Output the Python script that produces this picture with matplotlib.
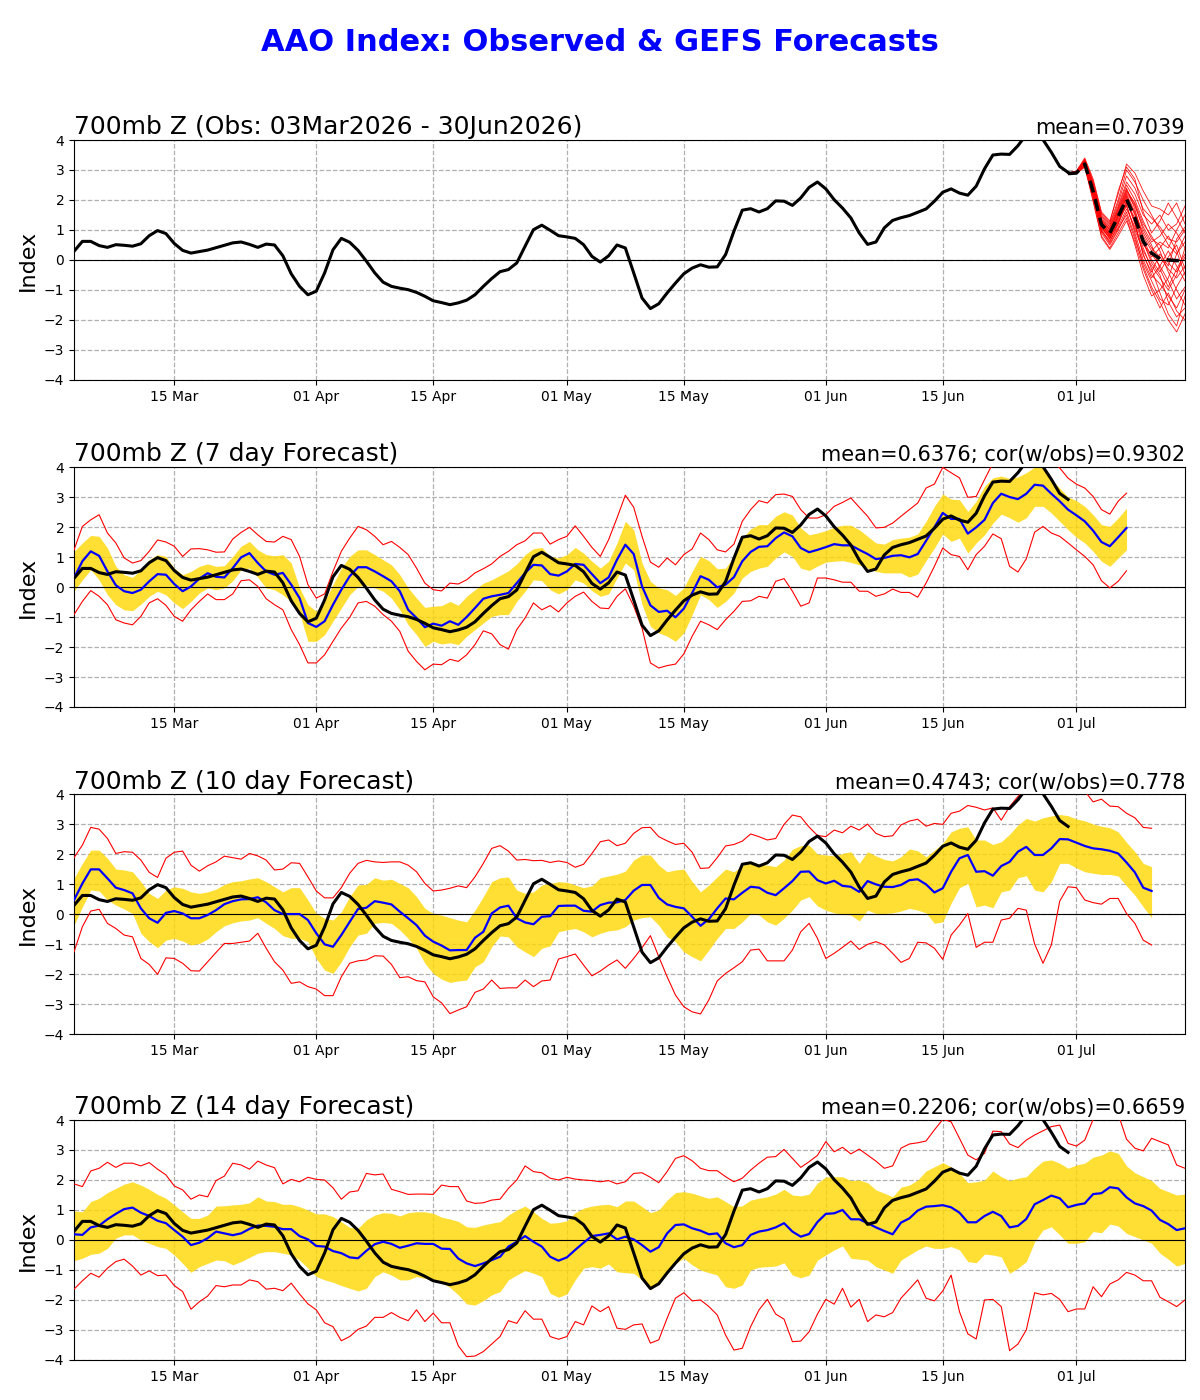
import numpy as np
import pandas as pd
import matplotlib
matplotlib.use("Agg")
import matplotlib.pyplot as plt
import matplotlib.dates as mdates

# observed AAO index, daily from 03 Mar 2026 to 30 Jun 2026
obs_start = "2026-03-03"
obs = [
    0.29, 0.62, 0.62, 0.48, 0.42, 0.51, 0.49, 0.46, 0.54, 0.81,
    0.98, 0.88, 0.55, 0.32, 0.23, 0.28, 0.33, 0.41, 0.49, 0.57,
    0.60, 0.52, 0.42, 0.53, 0.50, 0.14, -0.46, -0.88, -1.16, -1.04,
    -0.43, 0.34, 0.72, 0.59, 0.32, -0.04, -0.43, -0.74, -0.88, -0.94,
    -0.99, -1.08, -1.21, -1.36, -1.42, -1.49, -1.43, -1.34, -1.16, -0.88,
    -0.62, -0.39, -0.32, -0.10, 0.46, 1.01, 1.16, 0.99, 0.81, 0.77,
    0.72, 0.51, 0.12, -0.07, 0.14, 0.50, 0.40, -0.43, -1.27, -1.62,
    -1.46, -1.10, -0.77, -0.46, -0.27, -0.16, -0.24, -0.23, 0.18, 0.96,
    1.66, 1.71, 1.60, 1.71, 1.97, 1.96, 1.82, 2.07, 2.42, 2.60,
    2.37, 2.01, 1.73, 1.40, 0.90, 0.52, 0.60, 1.07, 1.32, 1.41,
    1.48, 1.59, 1.70, 1.96, 2.26, 2.37, 2.23, 2.16, 2.46, 3.04,
    3.50, 3.53, 3.52, 3.81, 4.18, 4.30, 4.01, 3.59, 3.12, 2.92,
]

# GEFS ensemble from 30 Jun 2026 to 14 Jul 2026
ens_start = "2026-06-30"
ens_mean = [2.88, 2.90, 3.20, 2.29, 1.18, 0.90, 1.45, 2.03, 1.40, 0.62,
            0.23, 0.04, 0.00, -0.02, -0.02]
ens_members = [
    [2.90, 2.95, 3.30, 2.40, 1.20, 0.80, 1.50, 2.20, 1.60, 0.90, 0.40, 0.10, -0.30, -0.60, -0.20],
    [2.88, 2.90, 3.20, 2.20, 1.00, 0.60, 1.20, 2.00, 1.20, 0.20, -0.50, -0.80, -1.20, -1.60, -1.00],
    [2.90, 2.92, 3.25, 2.50, 1.40, 1.10, 1.80, 2.60, 2.20, 1.50, 1.20, 1.50, 1.00, 1.20, 1.80],
    [2.87, 2.88, 3.10, 2.10, 0.90, 0.50, 1.00, 1.60, 0.80, -0.20, -0.90, -1.40, -2.00, -2.40, -1.80],
    [2.90, 2.95, 3.35, 2.60, 1.50, 1.20, 2.00, 3.00, 2.60, 2.00, 1.50, 1.00, 0.50, 0.20, 0.60],
    [2.89, 2.91, 3.15, 2.30, 1.10, 0.70, 1.30, 1.80, 1.00, 0.30, -0.20, -0.60, -1.00, -0.50, 0.40],
    [2.90, 2.94, 3.28, 2.35, 1.30, 1.00, 1.60, 2.30, 1.90, 1.20, 0.80, 0.30, -0.40, -1.00, -1.50],
    [2.88, 2.89, 3.12, 2.00, 0.80, 0.40, 0.90, 1.40, 0.50, -0.50, -1.20, -1.00, -0.60, 0.20, 0.80],
    [2.91, 2.96, 3.40, 2.70, 1.60, 1.30, 2.20, 3.20, 2.90, 2.30, 1.80, 1.70, 1.50, 1.90, 1.20],
    [2.89, 2.90, 3.18, 2.25, 1.15, 0.85, 1.40, 2.10, 1.50, 0.60, 0.00, -0.40, 0.10, 0.50, -0.30],
    [2.90, 2.93, 3.22, 2.45, 1.25, 0.95, 1.70, 2.40, 1.70, 0.70, 0.10, 0.40, 0.80, 0.30, -0.50],
    [2.88, 2.90, 3.15, 2.15, 0.95, 0.65, 1.10, 1.70, 1.10, 0.40, -0.30, -1.10, -1.80, -2.20, -1.20],
    [2.90, 2.92, 3.26, 2.38, 1.28, 0.90, 1.55, 2.25, 1.80, 1.10, 0.60, 0.80, 1.20, 0.90, 0.40],
    [2.89, 2.91, 3.20, 2.28, 1.12, 0.78, 1.35, 1.95, 1.30, 0.50, 0.20, -0.20, -0.70, -1.30, -0.90],
    [2.90, 2.94, 3.30, 2.50, 1.35, 1.05, 1.75, 2.50, 2.00, 1.30, 0.70, 0.50, -0.10, -0.40, 0.10],
    [2.88, 2.89, 3.14, 2.12, 0.98, 0.55, 1.05, 1.50, 0.70, -0.10, -0.70, -1.30, -1.50, -0.90, -0.40],
    [2.90, 2.93, 3.24, 2.32, 1.18, 0.82, 1.45, 2.15, 1.55, 0.80, 0.30, 0.60, 0.40, 1.00, 1.50],
    [2.89, 2.90, 3.17, 2.20, 1.05, 0.72, 1.25, 1.90, 1.40, 0.60, -0.10, -0.50, -1.40, -1.90, -1.60],
    [2.90, 2.95, 3.32, 2.55, 1.45, 1.15, 1.90, 2.80, 2.40, 1.70, 1.40, 1.10, 0.70, 0.60, 1.00],
    [2.89, 2.91, 3.19, 2.18, 1.08, 0.75, 1.20, 1.85, 0.90, 0.00, -0.60, -0.20, 0.30, -0.20, -0.70],
    [2.90, 2.96, 3.36, 2.62, 1.55, 1.25, 2.30, 3.10, 2.70, 1.60, 0.90, 1.30, 1.90, 1.40, 0.90],
    [2.88, 2.89, 3.11, 1.95, 0.75, 0.35, 0.80, 1.30, 0.60, -0.30, -1.00, -1.60, -1.10, -1.70, -2.00],
    [2.89, 2.92, 3.23, 2.34, 1.22, 0.88, 1.50, 2.05, 1.25, 0.15, -0.40, 0.20, -0.20, 0.70, 1.10],
    [2.90, 2.94, 3.29, 2.42, 1.32, 1.02, 1.65, 2.35, 1.85, 1.00, 0.50, -0.30, -0.90, -0.30, 0.20],
]

# verifying forecasts (valid dates start 03 Mar 2026)
f7_mean = [
    0.30, 0.86, 1.19, 1.04, 0.52, 0.06, -0.14, -0.20, -0.09, 0.19,
    0.43, 0.41, 0.10, -0.14, 0.02, 0.28, 0.46, 0.34, 0.32, 0.63,
    0.99, 1.13, 0.80, 0.52, 0.41, 0.47, 0.08, -0.37, -1.20, -1.33,
    -1.14, -0.59, -0.09, 0.36, 0.66, 0.66, 0.52, 0.36, 0.19, -0.14,
    -0.76, -1.03, -1.34, -1.22, -1.29, -1.14, -1.26, -1.00, -0.70, -0.39,
    -0.31, -0.26, -0.20, 0.13, 0.47, 0.74, 0.72, 0.43, 0.38, 0.52,
    0.77, 0.74, 0.43, 0.13, 0.32, 0.91, 1.41, 1.10, 0.02, -0.61,
    -0.83, -0.79, -1.01, -0.72, -0.20, 0.36, 0.24, -0.01, 0.08, 0.33,
    0.86, 1.17, 1.34, 1.36, 1.63, 1.82, 1.69, 1.30, 1.16, 1.24,
    1.33, 1.43, 1.39, 1.39, 1.24, 1.10, 0.93, 0.97, 1.04, 1.06,
    0.99, 1.10, 1.54, 1.99, 2.47, 2.27, 2.27, 1.78, 1.99, 2.24,
    2.80, 3.11, 3.00, 2.93, 3.11, 3.41, 3.38, 3.11, 2.86, 2.58,
    2.39, 2.19, 1.88, 1.50, 1.36, 1.66, 1.97,
]
f7_q_hi = [
    1.19, 1.47, 1.72, 1.69, 1.30, 0.69, 0.41, 0.32, 0.58, 0.91,
    1.08, 1.02, 0.63, 0.41, 0.52, 0.69, 0.77, 0.69, 0.71, 1.02,
    1.36, 1.52, 1.24, 1.08, 1.04, 1.08, 0.80, -0.03, -0.59, -0.81,
    -0.48, 0.08, 0.63, 1.02, 1.24, 1.24, 1.08, 0.91, 0.74, 0.41,
    -0.03, -0.37, -0.68, -0.64, -0.62, -0.48, -0.61, -0.31, -0.09, 0.13,
    0.24, 0.39, 0.54, 0.77, 1.08, 1.28, 1.32, 1.02, 0.97, 1.08,
    1.32, 1.13, 0.86, 0.63, 0.86, 1.47, 2.19, 1.91, 0.80, 0.19,
    -0.03, -0.09, -0.28, -0.03, 0.52, 1.02, 0.88, 0.61, 0.63, 1.02,
    1.63, 1.94, 2.08, 2.08, 2.36, 2.51, 2.40, 1.97, 1.74, 1.80,
    1.88, 1.99, 2.06, 2.06, 1.91, 1.69, 1.47, 1.43, 1.58, 1.63,
    1.66, 1.77, 2.19, 2.69, 3.10, 2.93, 2.91, 2.52, 2.86, 3.36,
    3.64, 3.70, 3.62, 3.67, 3.81, 4.00, 4.03, 3.58, 3.30, 3.00,
    2.88, 2.69, 2.41, 2.08, 2.02, 2.30, 2.63,
]
f7_q_lo = [
    -0.14, 0.24, 0.58, 0.24, -0.26, -0.59, -0.76, -0.79, -0.57, -0.31,
    -0.14, -0.26, -0.53, -0.72, -0.48, -0.20, -0.03, -0.09, -0.03, 0.21,
    0.58, 0.63, 0.32, -0.03, -0.09, -0.26, -0.48, -0.87, -1.81, -1.81,
    -1.59, -1.14, -0.70, -0.26, 0.02, 0.06, -0.03, -0.14, -0.37, -0.76,
    -1.26, -1.59, -1.98, -1.81, -1.90, -1.86, -1.92, -1.64, -1.42, -1.20,
    -0.98, -0.92, -0.92, -0.48, -0.14, 0.24, 0.21, -0.09, -0.23, -0.09,
    0.24, 0.13, -0.12, -0.31, -0.23, 0.30, 0.80, 0.58, -0.59, -1.31,
    -1.53, -1.64, -1.81, -1.53, -0.92, -0.26, -0.42, -0.68, -0.48, -0.20,
    0.30, 0.52, 0.63, 0.69, 0.97, 1.17, 1.02, 0.63, 0.55, 0.70,
    0.83, 0.86, 0.88, 0.82, 0.74, 0.63, 0.52, 0.47, 0.47, 0.47,
    0.33, 0.43, 0.88, 1.30, 1.77, 1.52, 1.63, 1.13, 1.47, 1.74,
    2.13, 2.43, 2.31, 2.16, 2.31, 2.69, 2.69, 2.47, 2.19, 1.91,
    1.66, 1.47, 1.19, 0.86, 0.69, 0.97, 1.24,
]
f7_max = [
    1.24, 2.02, 2.24, 2.41, 1.80, 1.47, 0.97, 0.80, 0.88, 1.19,
    1.57, 1.50, 1.36, 1.02, 1.27, 1.28, 1.24, 1.16, 1.17, 1.60,
    1.82, 1.99, 1.74, 1.52, 1.50, 1.69, 1.58, 1.02, 0.08, -0.37,
    -0.23, 0.52, 1.19, 1.63, 2.02, 1.91, 1.69, 1.41, 1.52, 1.32,
    1.08, 0.63, 0.13, -0.09, -0.13, 0.13, 0.10, 0.24, 0.47, 0.61,
    0.77, 1.02, 1.19, 1.41, 1.54, 1.80, 1.80, 1.43, 1.58, 1.69,
    2.04, 1.69, 1.32, 1.02, 1.58, 2.30, 3.06, 2.66, 1.69, 0.83,
    0.66, 0.97, 0.74, 1.08, 1.27, 1.80, 1.58, 1.24, 1.17, 1.43,
    2.19, 2.58, 2.88, 2.80, 3.08, 3.10, 3.02, 2.58, 2.30, 2.30,
    2.41, 2.69, 2.82, 2.97, 2.66, 2.36, 1.97, 1.99, 2.13, 2.36,
    2.58, 2.80, 3.30, 3.43, 3.99, 3.81, 3.64, 2.99, 3.02, 3.58,
    4.13, 4.30, 4.20, 4.20, 4.20, 4.20, 4.20, 4.20, 3.97, 3.63,
    3.43, 3.30, 3.02, 2.58, 2.43, 2.86, 3.13,
]
f7_min = [
    -0.92, -0.48, -0.12, -0.31, -0.59, -1.09, -1.20, -1.26, -0.98, -0.53,
    -0.39, -0.61, -0.98, -1.14, -0.76, -0.48, -0.23, -0.42, -0.42, -0.23,
    0.21, 0.24, 0.02, -0.39, -0.59, -0.76, -1.42, -1.92, -2.53, -2.53,
    -2.26, -1.81, -1.37, -1.01, -0.53, -0.48, -0.64, -0.92, -1.14, -1.48,
    -2.14, -2.48, -2.76, -2.57, -2.59, -2.41, -2.48, -2.26, -1.92, -1.46,
    -1.56, -1.92, -2.07, -1.42, -1.03, -0.53, -0.76, -0.62, -0.83, -0.53,
    -0.31, -0.17, -0.48, -0.70, -0.72, -0.31, -0.06, -0.64, -1.37, -2.53,
    -2.70, -2.62, -2.57, -2.23, -1.64, -1.14, -1.26, -1.42, -1.09, -0.81,
    -0.48, -0.46, -0.31, -0.37, 0.19, 0.28, -0.14, -0.64, -0.53, 0.30,
    0.30, 0.24, 0.16, 0.16, -0.14, -0.14, -0.31, -0.23, -0.07, -0.18,
    -0.18, -0.34, 0.13, 0.69, 1.30, 1.08, 1.02, 0.58, 1.08, 1.36,
    1.77, 1.61, 0.69, 0.50, 0.94, 1.83, 2.02, 1.80, 1.69, 1.47,
    1.24, 1.02, 0.74, 0.21, -0.03, 0.19, 0.54,
]

f10_mean = [
    0.47, 1.02, 1.49, 1.49, 1.19, 0.88, 0.80, 0.69, 0.19, -0.14,
    -0.29, 0.04, 0.10, 0.02, -0.14, -0.14, -0.03, 0.13, 0.33, 0.43,
    0.49, 0.50, 0.56, 0.39, 0.13, 0.00, 0.00, 0.00, -0.20, -0.64,
    -1.01, -1.09, -0.70, -0.26, 0.17, 0.21, 0.43, 0.38, 0.32, 0.08,
    -0.14, -0.37, -0.72, -0.92, -1.05, -1.21, -1.20, -1.20, -0.79, -0.59,
    0.02, 0.22, 0.28, -0.14, -0.28, -0.34, -0.09, -0.07, 0.27, 0.28,
    0.28, 0.11, 0.08, 0.30, 0.38, 0.39, 0.47, 0.78, 0.97, 0.97,
    0.54, 0.32, 0.24, 0.19, -0.09, -0.39, -0.17, 0.19, 0.52, 0.49,
    0.71, 0.91, 0.88, 0.71, 0.63, 0.86, 1.10, 1.41, 1.42, 1.13,
    1.02, 1.11, 0.94, 0.91, 0.74, 1.10, 0.99, 0.91, 0.90, 0.97,
    1.13, 1.16, 0.99, 0.72, 0.86, 1.41, 1.86, 1.97, 1.41, 1.43,
    1.28, 1.60, 1.74, 2.08, 2.24, 1.97, 1.97, 2.19, 2.50, 2.49,
    2.38, 2.27, 2.19, 2.16, 2.11, 2.02, 1.72, 1.39, 0.88, 0.77,
]
f10_q_hi = [
    1.19, 1.69, 2.13, 2.13, 1.86, 1.50, 1.47, 1.41, 1.08, 0.69,
    0.52, 0.80, 0.91, 0.86, 0.74, 0.69, 0.74, 0.83, 0.99, 1.08,
    1.11, 1.17, 1.21, 1.08, 0.91, 0.74, 0.88, 0.88, 0.47, 0.02,
    -0.14, -0.20, 0.08, 0.58, 0.97, 0.99, 1.21, 1.13, 1.16, 1.02,
    0.88, 0.58, 0.19, 0.02, -0.04, -0.12, -0.20, -0.26, 0.13, 0.58,
    1.08, 1.21, 1.24, 0.80, 0.69, 0.74, 0.97, 1.02, 1.08, 1.06,
    0.97, 0.88, 0.94, 1.21, 1.27, 1.33, 1.43, 1.80, 1.97, 1.97,
    1.63, 1.41, 1.47, 1.50, 1.08, 0.74, 0.97, 1.24, 1.50, 1.41,
    1.61, 1.77, 1.66, 1.63, 1.58, 1.80, 2.16, 2.28, 2.30, 2.00,
    1.97, 1.94, 2.02, 2.08, 1.69, 2.08, 1.94, 1.82, 1.77, 1.91,
    2.17, 2.11, 1.91, 2.13, 2.36, 2.74, 2.86, 2.91, 2.47, 2.47,
    2.32, 2.41, 2.66, 2.97, 3.19, 3.10, 3.21, 3.27, 3.32, 3.28,
    3.17, 3.11, 3.00, 2.93, 2.88, 2.74, 2.39, 2.08, 1.69, 1.58,
]
f10_q_lo = [
    -0.37, 0.24, 0.80, 0.77, 0.47, 0.30, 0.17, 0.02, -0.64, -0.92,
    -1.12, -0.87, -0.81, -0.90, -1.03, -0.98, -0.83, -0.59, -0.39, -0.29,
    -0.23, -0.20, -0.12, -0.31, -0.48, -0.72, -0.81, -0.81, -0.92, -1.48,
    -1.87, -1.98, -1.59, -1.09, -0.70, -0.64, -0.31, -0.28, -0.31, -0.53,
    -0.81, -1.14, -1.64, -1.98, -2.17, -2.28, -2.23, -2.20, -1.76, -1.59,
    -1.09, -0.73, -0.76, -1.09, -1.26, -1.42, -1.14, -1.06, -0.59, -0.53,
    -0.48, -0.59, -0.76, -0.64, -0.56, -0.53, -0.42, -0.20, -0.12, -0.09,
    -0.37, -0.76, -0.92, -1.26, -1.42, -1.56, -1.20, -0.81, -0.48, -0.48,
    -0.26, 0.02, -0.03, -0.26, -0.37, -0.14, 0.13, 0.47, 0.58, 0.27,
    0.13, 0.04, -0.01, -0.03, -0.23, 0.13, 0.02, 0.02, 0.04, 0.10,
    0.19, 0.13, 0.04, -0.31, -0.26, 0.36, 0.88, 1.02, 0.24, 0.30,
    0.21, 0.74, 0.80, 1.21, 1.28, 0.80, 0.74, 1.08, 1.69, 1.69,
    1.54, 1.41, 1.36, 1.32, 1.32, 1.27, 0.94, 0.63, 0.24, -0.12,
]
f10_max = [
    1.88, 2.30, 2.89, 2.83, 2.52, 2.02, 2.08, 2.06, 1.80, 1.39,
    1.22, 1.86, 2.06, 2.10, 1.63, 1.43, 1.61, 1.74, 1.93, 1.88,
    1.83, 2.02, 1.94, 1.80, 1.47, 1.50, 1.71, 1.69, 1.24, 0.77,
    0.54, 0.54, 0.88, 1.36, 1.69, 1.79, 1.74, 1.72, 1.74, 1.74,
    1.63, 1.41, 1.02, 0.77, 0.80, 0.86, 0.94, 0.88, 1.24, 1.69,
    2.19, 2.28, 2.10, 1.80, 1.82, 1.78, 1.79, 1.72, 1.77, 1.72,
    1.56, 1.66, 2.02, 2.41, 2.47, 2.28, 2.36, 2.69, 2.88, 2.89,
    2.58, 2.44, 2.32, 2.36, 2.06, 1.52, 1.54, 1.88, 2.27, 2.32,
    2.43, 2.67, 2.58, 2.47, 2.52, 2.99, 3.30, 3.24, 2.90, 2.62,
    2.58, 2.80, 2.71, 2.93, 2.80, 3.00, 2.69, 2.58, 2.61, 2.97,
    3.10, 3.16, 2.93, 3.02, 2.99, 3.36, 3.43, 3.62, 3.56, 3.47,
    3.54, 3.13, 3.58, 3.92, 4.20, 4.30, 4.30, 4.20, 4.20, 4.20,
    4.20, 4.10, 3.74, 3.83, 3.60, 3.58, 3.36, 3.21, 2.89, 2.86,
]
f10_min = [
    -1.26, -0.42, 0.10, 0.16, -0.31, -0.48, -0.70, -0.76, -1.48, -1.68,
    -2.01, -1.46, -1.48, -1.64, -1.89, -1.90, -1.59, -1.28, -0.98, -0.98,
    -0.94, -0.90, -0.64, -1.14, -1.59, -1.87, -2.31, -2.26, -2.42, -2.50,
    -2.72, -2.72, -2.09, -1.64, -1.56, -1.53, -1.39, -1.40, -1.68, -2.12,
    -2.09, -2.22, -2.26, -2.76, -2.96, -3.32, -3.20, -3.09, -2.61, -2.50,
    -2.20, -2.48, -2.46, -2.46, -2.20, -2.42, -2.23, -2.20, -1.50, -1.42,
    -1.33, -1.70, -2.06, -1.90, -1.70, -1.53, -1.81, -1.48, -1.12, -0.72,
    -1.42, -2.09, -2.70, -3.09, -3.26, -3.33, -2.86, -2.23, -1.98, -1.79,
    -1.59, -1.20, -1.17, -1.56, -1.56, -1.56, -1.20, -0.59, -0.31, -0.81,
    -1.48, -1.31, -1.11, -0.90, -1.18, -1.01, -0.92, -1.03, -1.31, -1.61,
    -1.48, -0.94, -0.96, -1.14, -1.51, -0.70, -0.37, 0.02, -1.11, -0.94,
    -0.94, -0.20, -0.14, 0.19, 0.13, -1.00, -1.64, -1.03, 0.43, 0.91,
    0.88, 0.47, 0.38, 0.33, 0.52, 0.52, 0.02, -0.31, -0.87, -1.03,
]

f14_mean = [
    0.19, 0.17, 0.42, 0.48, 0.69, 0.87, 1.03, 1.08, 0.91, 0.80,
    0.64, 0.56, 0.33, 0.11, -0.17, -0.09, 0.06, 0.28, 0.22, 0.16,
    0.22, 0.37, 0.48, 0.47, 0.44, 0.36, 0.36, 0.13, 0.02, -0.20,
    -0.22, -0.37, -0.44, -0.58, -0.61, -0.36, -0.14, -0.06, -0.13, -0.26,
    -0.19, -0.11, -0.13, -0.13, -0.29, -0.30, -0.62, -0.78, -0.87, -0.78,
    -0.67, -0.56, -0.22, -0.06, 0.13, -0.06, -0.22, -0.56, -0.69, -0.58,
    -0.33, -0.09, 0.13, 0.17, 0.22, 0.02, 0.11, 0.02, -0.17, -0.39,
    -0.24, 0.22, 0.50, 0.52, 0.39, 0.31, 0.19, 0.22, -0.11, -0.24,
    -0.17, 0.17, 0.28, 0.33, 0.42, 0.56, 0.28, 0.11, 0.20, 0.60,
    0.87, 0.89, 1.00, 0.69, 0.69, 0.56, 0.42, 0.30, 0.19, 0.58,
    0.72, 0.98, 1.11, 1.13, 1.16, 1.09, 0.91, 0.59, 0.59, 0.80,
    0.94, 0.80, 0.42, 0.47, 0.70, 1.19, 1.33, 1.48, 1.39, 1.09,
    1.17, 1.22, 1.53, 1.56, 1.76, 1.72, 1.42, 1.22, 1.13, 0.98,
    0.67, 0.53, 0.33, 0.39,
]
f14_q_hi = [
    0.97, 0.94, 1.28, 1.39, 1.58, 1.72, 1.86, 1.94, 1.83, 1.69,
    1.52, 1.39, 1.17, 0.94, 0.72, 0.72, 0.83, 1.13, 1.14, 1.17,
    1.19, 1.24, 1.44, 1.30, 1.28, 1.19, 1.19, 1.11, 1.00, 0.87,
    0.87, 0.78, 0.61, 0.42, 0.39, 0.67, 0.83, 0.91, 0.89, 0.80,
    0.91, 0.94, 0.94, 0.89, 0.76, 0.70, 0.62, 0.44, 0.42, 0.50,
    0.56, 0.61, 0.83, 1.00, 1.13, 0.94, 0.72, 0.56, 0.58, 0.64,
    0.91, 1.06, 1.13, 1.17, 1.19, 1.11, 1.30, 1.30, 1.11, 0.91,
    1.00, 1.33, 1.58, 1.61, 1.56, 1.47, 1.39, 1.44, 1.28, 1.11,
    1.14, 1.33, 1.39, 1.44, 1.53, 1.69, 1.50, 1.47, 1.53, 1.90,
    2.10, 2.11, 2.11, 1.98, 2.00, 1.91, 1.67, 1.56, 1.44, 1.76,
    1.83, 2.00, 2.30, 2.44, 2.58, 2.44, 2.22, 1.91, 1.94, 2.00,
    2.30, 2.11, 1.98, 2.06, 2.11, 2.39, 2.63, 2.67, 2.56, 2.39,
    2.50, 2.56, 2.76, 2.83, 2.97, 2.89, 2.47, 2.24, 2.11, 1.98,
    1.72, 1.61, 1.50, 1.53,
]
f14_q_lo = [
    -0.69, -0.61, -0.48, -0.44, -0.28, 0.06, 0.17, 0.17, 0.00, -0.11,
    -0.22, -0.28, -0.50, -0.78, -1.08, -0.89, -0.78, -0.67, -0.69, -0.83,
    -0.72, -0.58, -0.44, -0.39, -0.39, -0.44, -0.50, -0.67, -0.94, -1.22,
    -1.33, -1.41, -1.52, -1.61, -1.70, -1.61, -1.22, -1.06, -1.17, -1.33,
    -1.33, -1.22, -1.28, -1.33, -1.42, -1.58, -1.83, -2.13, -2.17, -2.02,
    -1.83, -1.72, -1.33, -1.17, -1.02, -1.11, -1.22, -1.78, -1.91, -1.80,
    -1.33, -0.94, -0.89, -0.94, -0.80, -1.06, -1.09, -1.11, -1.33, -1.67,
    -1.39, -1.11, -0.78, -0.61, -0.83, -1.00, -1.09, -1.17, -1.56, -1.61,
    -1.50, -1.00, -0.91, -0.89, -0.87, -0.76, -1.17, -1.26, -1.17, -0.67,
    -0.50, -0.33, -0.20, -0.61, -0.64, -0.67, -0.89, -1.00, -1.11, -0.67,
    -0.50, -0.33, -0.20, -0.28, -0.28, -0.22, -0.33, -0.72, -0.76, -0.47,
    -0.50, -0.56, -1.11, -0.94, -0.72, -0.06, 0.33, 0.44, 0.17, -0.11,
    -0.11, -0.06, 0.28, 0.24, 0.53, 0.47, 0.22, 0.11, 0.00, -0.11,
    -0.44, -0.64, -0.87, -0.78,
]
f14_max = [
    1.87, 1.78, 2.30, 2.39, 2.59, 2.42, 2.56, 2.56, 2.47, 2.58,
    2.36, 2.17, 1.80, 1.67, 1.36, 1.50, 1.44, 1.98, 2.13, 2.56,
    2.50, 2.36, 2.63, 2.50, 2.41, 1.87, 2.02, 1.94, 2.09, 2.02,
    2.00, 1.74, 1.36, 1.60, 1.64, 2.22, 2.17, 2.20, 1.69, 1.61,
    1.52, 1.53, 1.53, 1.52, 1.83, 1.78, 1.78, 1.30, 1.22, 1.24,
    1.33, 1.36, 1.72, 2.00, 2.47, 2.28, 2.24, 2.06, 2.00, 2.09,
    2.03, 2.00, 1.98, 1.94, 1.98, 1.87, 1.94, 2.22, 2.24, 2.09,
    1.91, 2.28, 2.72, 2.81, 2.64, 2.39, 2.31, 2.31, 2.11, 1.94,
    2.06, 2.33, 2.56, 2.76, 2.78, 3.02, 2.72, 2.42, 2.61, 2.82,
    3.28, 2.94, 3.09, 2.87, 3.03, 2.83, 2.63, 2.39, 2.47, 3.06,
    3.20, 3.24, 3.30, 3.67, 4.02, 3.94, 3.39, 2.83, 2.67, 2.89,
    3.63, 3.61, 3.20, 3.08, 3.33, 3.50, 3.64, 3.78, 3.83, 3.22,
    3.13, 3.33, 4.02, 4.30, 4.30, 4.20, 3.36, 3.06, 2.97, 3.39,
    3.28, 3.17, 2.50, 2.39,
]
f14_min = [
    -1.64, -1.36, -1.11, -1.24, -0.94, -0.72, -0.64, -0.87, -1.17, -1.03,
    -1.19, -1.17, -1.52, -1.72, -2.31, -2.06, -1.87, -1.52, -1.56, -1.50,
    -1.50, -1.33, -1.39, -1.64, -1.61, -1.69, -1.44, -1.80, -2.13, -2.33,
    -2.76, -2.89, -3.36, -3.22, -2.98, -2.87, -2.58, -2.58, -2.42, -2.58,
    -2.69, -2.33, -2.72, -2.44, -2.76, -2.76, -3.53, -3.89, -3.87, -3.72,
    -3.47, -3.22, -2.69, -2.78, -2.36, -2.64, -2.64, -3.22, -3.31, -3.22,
    -2.72, -2.83, -2.20, -2.39, -2.22, -2.94, -2.98, -2.83, -2.80, -3.44,
    -3.33, -2.61, -1.94, -1.76, -2.03, -2.00, -2.22, -2.50, -3.17, -3.67,
    -3.61, -2.89, -2.33, -1.98, -2.47, -2.64, -3.39, -3.37, -3.06, -2.47,
    -1.98, -2.14, -1.61, -2.24, -1.98, -2.72, -2.50, -2.56, -2.42, -1.94,
    -1.64, -1.33, -1.94, -2.03, -1.70, -1.17, -2.39, -3.13, -3.30, -2.00,
    -1.98, -2.22, -3.69, -3.47, -3.00, -1.76, -1.83, -1.78, -1.98, -2.39,
    -2.30, -2.30, -1.56, -1.89, -1.47, -1.33, -1.08, -1.17, -1.36, -1.36,
    -1.91, -2.06, -2.22, -2.00,
]

titles = ["700mb Z (Obs: 03Mar2026 - 30Jun2026)",
          "700mb Z (7 day Forecast)",
          "700mb Z (10 day Forecast)",
          "700mb Z (14 day Forecast)"]
stats = ["mean=0.7039",
         "mean=0.6376; cor(w/obs)=0.9302",
         "mean=0.4743; cor(w/obs)=0.778",
         "mean=0.2206; cor(w/obs)=0.6659"]
xtick_dates = ["2026-03-15", "2026-04-01", "2026-04-15", "2026-05-01",
               "2026-05-15", "2026-06-01", "2026-06-15", "2026-07-01"]
x_range = ["2026-03-03", "2026-07-14"]


def days(start, n):
    return pd.date_range(start, periods=n, freq="D")


def style_axis(ax, left_title, right_title):
    ax.set_xlim(pd.Timestamp(x_range[0]), pd.Timestamp(x_range[1]))
    ax.set_ylim(-4, 4)
    ax.set_yticks(np.arange(-4, 5, 1))
    ax.set_xticks(pd.to_datetime(xtick_dates))
    ax.xaxis.set_major_formatter(mdates.DateFormatter("%d %b"))
    ax.tick_params(labelsize=10)
    ax.grid(True, linestyle="--", color="#b0b0b0", linewidth=0.9)
    ax.set_axisbelow(True)
    # zero line sits above the shaded band
    ax.axhline(0, color="k", linewidth=0.8, zorder=2.5)
    ax.set_ylabel("Index", fontsize=16)
    ax.set_title(left_title, loc="left", fontsize=18, pad=4)
    ax.set_title(right_title, loc="right", fontsize=15, pad=4)


fig = plt.figure(figsize=(12, 14), dpi=100)
fig.suptitle("AAO Index: Observed & GEFS Forecasts", color="blue",
             fontsize=22, fontweight="bold", y=0.98)

left, width, height = 0.0617, 0.9258, 0.1714
bottoms = [0.7286, 0.495, 0.2614, 0.0286]

obs_dates = days(obs_start, len(obs))

# panel 1: observations + ensemble
ax = fig.add_axes([left, bottoms[0], width, height])
ens_dates = days(ens_start, len(ens_mean))
for member in ens_members:
    ax.plot(ens_dates, member, color="red", linewidth=0.6, alpha=0.9, zorder=2)
ax.plot(obs_dates, obs, color="k", linewidth=2.2, zorder=3)
ax.plot(ens_dates, ens_mean, color="k", linewidth=2.5, linestyle=(0, (3.5, 2)), zorder=4)
style_axis(ax, titles[0], stats[0])

# panels 2-4: verifying forecasts
panels = [
    (f7_mean, f7_q_lo, f7_q_hi, f7_min, f7_max),
    (f10_mean, f10_q_lo, f10_q_hi, f10_min, f10_max),
    (f14_mean, f14_q_lo, f14_q_hi, f14_min, f14_max),
]
for i, (mean, q_lo, q_hi, lo, hi) in enumerate(panels, start=1):
    ax = fig.add_axes([left, bottoms[i], width, height])
    d = days(obs_start, len(mean))
    ax.fill_between(d, q_lo, q_hi, color="gold", alpha=0.8, linewidth=0, zorder=2)
    ax.plot(d, hi, color="red", linewidth=0.8, zorder=3)
    ax.plot(d, lo, color="red", linewidth=0.8, zorder=3)
    ax.plot(d, mean, color="blue", linewidth=1.6, zorder=4)
    ax.plot(obs_dates, obs, color="k", linewidth=2.2, zorder=5)
    style_axis(ax, titles[i], stats[i])

fig.savefig("out.png", dpi=100)
